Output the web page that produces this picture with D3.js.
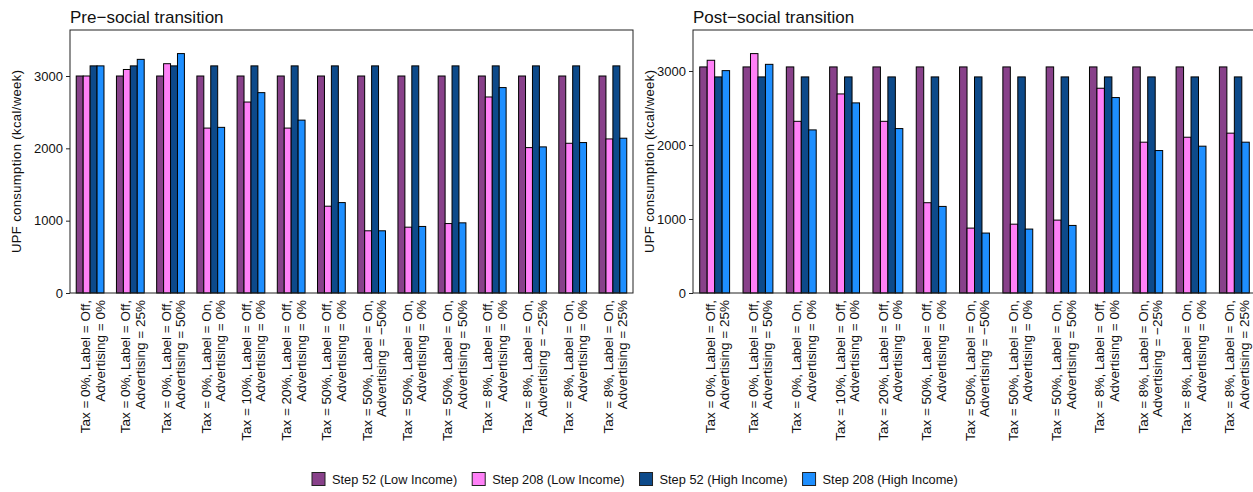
<!DOCTYPE html>
<html>
<head>
<meta charset="utf-8">
<script src="https://d3js.org/d3.v7.min.js"></script>
<style>
  body { margin: 0; background: #fff; }
  text { font-family: "Liberation Sans", Arial, sans-serif; fill: #111; }
</style>
</head>
<body>
<script>
// scenario labels (line 1, line 2)
var scenariosPre = [
  ["Tax = 0%, Label = Off,", "Advertising = 0%"],
  ["Tax = 0%, Label = Off,", "Advertising = 25%"],
  ["Tax = 0%, Label = Off,", "Advertising = 50%"],
  ["Tax = 0%, Label = On,", "Advertising = 0%"],
  ["Tax = 10%, Label = Off,", "Advertising = 0%"],
  ["Tax = 20%, Label = Off,", "Advertising = 0%"],
  ["Tax = 50%, Label = Off,", "Advertising = 0%"],
  ["Tax = 50%, Label = On,", "Advertising = \u221250%"],
  ["Tax = 50%, Label = On,", "Advertising = 0%"],
  ["Tax = 50%, Label = On,", "Advertising = 50%"],
  ["Tax = 8%, Label = Off,", "Advertising = 0%"],
  ["Tax = 8%, Label = On,", "Advertising = \u221225%"],
  ["Tax = 8%, Label = On,", "Advertising = 0%"],
  ["Tax = 8%, Label = On,", "Advertising = 25%"]
];
var scenariosPost = scenariosPre.slice(1);

var seriesNames = ["Step 52 (Low Income)", "Step 208 (Low Income)", "Step 52 (High Income)", "Step 208 (High Income)"];
var seriesColors = ["#88418a", "#ff80f7", "#0d4a8a", "#1e8fff"];

// pre-social transition values
var preLow52   = [3000, 3000, 3000, 3000, 3000, 3000, 3000, 3000, 3000, 3000, 3000, 3000, 3000, 3000];
var preLow208  = [3000, 3090, 3170, 2280, 2640, 2280, 1200, 860, 910, 960, 2710, 2010, 2070, 2130];
var preHigh52  = [3140, 3140, 3140, 3140, 3140, 3140, 3140, 3140, 3140, 3140, 3140, 3140, 3140, 3140];
var preHigh208 = [3140, 3230, 3310, 2290, 2770, 2390, 1250, 860, 920, 970, 2840, 2020, 2080, 2140];

// post-social transition values
var postLow52   = [3055, 3055, 3055, 3055, 3055, 3055, 3055, 3055, 3055, 3055, 3055, 3055, 3055];
var postLow208  = [3145, 3235, 2320, 2690, 2320, 1220, 877, 930, 985, 2767, 2038, 2105, 2160];
var postHigh52  = [2920, 2920, 2920, 2920, 2920, 2920, 2920, 2920, 2920, 2920, 2920, 2920, 2920];
var postHigh208 = [3005, 3090, 2204, 2569, 2222, 1170, 810, 864, 913, 2641, 1925, 1984, 2038];

var yTicks = [0, 1000, 2000, 3000];

var W = 1253, H = 492;
var svg = d3.select("body").append("svg").attr("width", W).attr("height", H);

function panel(opts) {
  var g = svg.append("g");
  var cats = opts.scenarios.map(function (d, i) { return i; });
  var x = d3.scaleBand().domain(cats).range(opts.xr).paddingInner(0.31).paddingOuter(0.155);
  var xs = d3.scaleBand().domain([0, 1, 2, 3]).range([0, x.bandwidth()]);
  var y = d3.scaleLinear().domain([0, opts.ymax]).range([opts.bottom, opts.top]);

  opts.values.forEach(function (vals, s) {
    g.append("g").selectAll("rect")
      .data(vals)
      .enter()
      .append("rect")
      .attr("x", function (d, i) { return x(i) + xs(s); })
      .attr("width", xs.bandwidth())
      .attr("y", function (d) { return y(d); })
      .attr("height", function (d) { return y(0) - y(d); })
      .attr("fill", seriesColors[s])
      .attr("stroke", "#000")
      .attr("stroke-width", 1);
  });

  // frame
  g.append("rect")
    .attr("x", opts.box[0]).attr("y", opts.top)
    .attr("width", opts.box[1] - opts.box[0]).attr("height", opts.bottom - opts.top)
    .attr("fill", "none").attr("stroke", "#222").attr("stroke-width", 1);

  var ax = g.append("g")
    .attr("transform", "translate(" + opts.box[0] + ",0)")
    .call(d3.axisLeft(y).tickValues(yTicks).tickSize(4).tickPadding(3).tickFormat(d3.format("d")));
  ax.select(".domain").remove();
  ax.selectAll("text").style("font-size", "13px").style("font-family", "Liberation Sans, Arial, sans-serif");
  ax.selectAll("line").attr("stroke", "#222");

  g.append("text")
    .attr("transform", "translate(" + opts.ylabX + "," + ((opts.top + opts.bottom) / 2) + ") rotate(-90)")
    .attr("text-anchor", "middle")
    .attr("dominant-baseline", "central")
    .attr("textLength", 183)
    .attr("lengthAdjust", "spacing")
    .style("font-size", "13px")
    .text("UPF consumption (kcal/week)");

  g.append("text")
    .attr("x", opts.box[0]).attr("y", 23)
    .style("font-size", "17px")
    .text(opts.title);

  // category labels
  var lab = g.append("g").selectAll("g")
    .data(opts.scenarios)
    .enter()
    .append("g")
    .attr("transform", function (d, i) {
      return "translate(" + (x(i) + x.bandwidth() / 2) + "," + (opts.bottom + 7) + ") rotate(-90)";
    });
  lab.append("text")
    .attr("text-anchor", "end")
    .attr("y", 0)
    .style("font-size", "13.5px")
    .text(function (d) { return d[0]; });
  lab.append("text")
    .attr("text-anchor", "end")
    .attr("y", 14.5)
    .style("font-size", "13.5px")
    .text(function (d) { return d[1]; });
}

panel({
  scenarios: scenariosPre,
  values: [preLow52, preLow208, preHigh52, preHigh208],
  xr: [70, 633], box: [70, 633], top: 30, bottom: 293, ymax: 3636,
  ylabX: 16, title: "Pre\u2212social transition"
});

panel({
  scenarios: scenariosPost,
  values: [postLow52, postLow208, postHigh52, postHigh208],
  xr: [693, 1256], box: [693, 1256], top: 30, bottom: 293, ymax: 3554,
  ylabX: 649, title: "Post\u2212social transition"
});

// legend
var leg = svg.append("g").attr("transform", "translate(312,479)");
var lx = 0;
seriesNames.forEach(function (name, i) {
  var item = leg.append("g").attr("transform", "translate(" + lx + ",0)");
  item.append("rect")
    .attr("x", 0).attr("y", -6.5).attr("width", 13).attr("height", 13)
    .attr("fill", seriesColors[i]).attr("stroke", "#222");
  var t = item.append("text")
    .attr("x", 20).attr("dominant-baseline", "central")
    .style("font-size", "12.8px")
    .text(name);
  lx += 20 + t.node().getComputedTextLength() + 15;
});
</script>
</body>
</html>
